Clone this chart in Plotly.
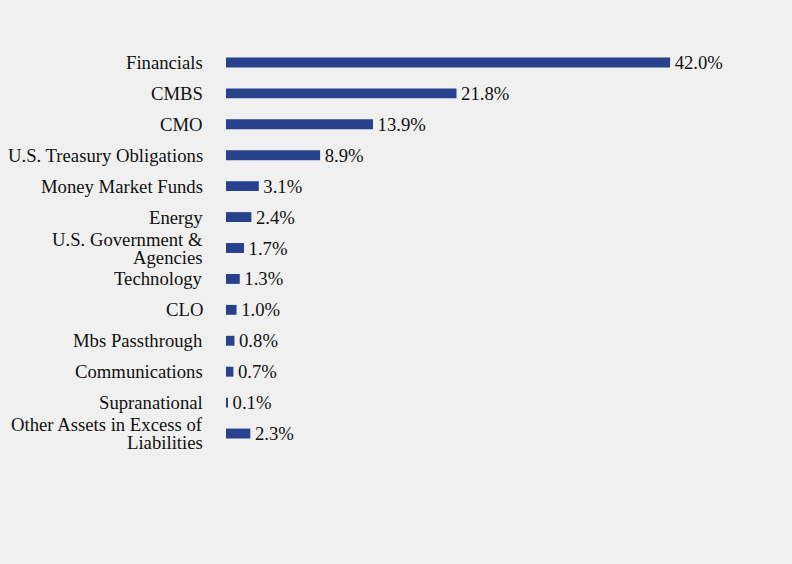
import plotly.graph_objects as go

categories = [
    "Financials", "CMBS", "CMO", "U.S. Treasury Obligations", "Money Market Funds",
    "Energy", "U.S. Government &<br>Agencies", "Technology", "CLO", "Mbs Passthrough",
    "Communications", "Supranational", "Other Assets in Excess of<br>Liabilities",
]
values = [42.0, 21.8, 13.9, 8.9, 3.1, 2.4, 1.7, 1.3, 1.0, 0.8, 0.7, 0.1, 2.3]
labels = [f"\u200a{v:.1f}%" for v in values]

FS = 18.7
LINE_H = 18
FONT = dict(family="Liberation Serif", size=FS, color="#111111")

fig = go.Figure(go.Bar(
    x=values, y=categories, orientation="h",
    marker=dict(color="#27418C", line=dict(width=0)),
    width=0.32,
    text=labels, textposition="outside", cliponaxis=False, constraintext="none",
    textfont=FONT,
))

# category labels drawn line by line for tighter line spacing
for cat in categories:
    lines = cat.split("<br>")
    n = len(lines)
    for i, line in enumerate(lines):
        fig.add_annotation(
            x=0, y=cat, xref="x", yref="y", text=line, showarrow=False,
            xanchor="right", yanchor="middle", xshift=-22, borderpad=0,
            yshift=((n - 1) / 2 - i) * LINE_H, font=FONT,
        )

fig.update_layout(
    width=792, height=564,
    margin=dict(l=226, r=50, t=47, b=115),
    paper_bgcolor="#F0F0F0", plot_bgcolor="#F0F0F0",
    font=FONT,
    showlegend=False,
    xaxis=dict(range=[0, 48.8], visible=False, showgrid=False, zeroline=False, automargin=False),
    yaxis=dict(range=[len(categories) - 0.5, -0.5], autorange=False, showgrid=False,
               zeroline=False, showline=False, showticklabels=False, ticks="", automargin=False),
)

fig.write_html("out.html")
